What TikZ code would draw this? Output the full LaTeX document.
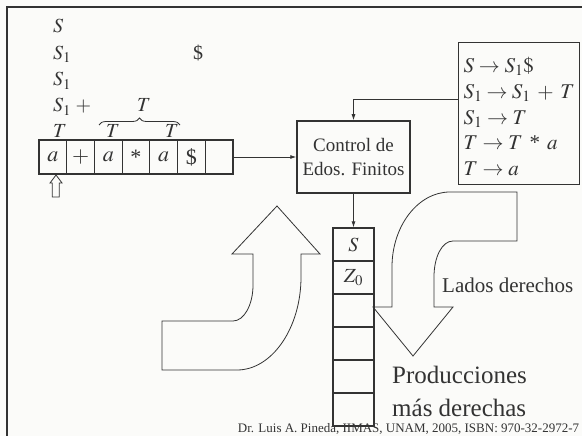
\documentclass[tikz,border=0pt]{standalone}
\usepackage{mathptmx}
\usepackage{fontspec}
\setmainfont{Liberation Serif}
\usetikzlibrary{arrows.meta, positioning, decorations.pathreplacing}
\definecolor{inkcolor}{RGB}{51,51,51}
\definecolor{papercolor}{RGB}{251,251,249}

\begin{document}
\begin{tikzpicture}[
    x=1pt, y=-1pt,
    cell/.style={draw=inkcolor, line width=1.2pt, minimum width=27.7pt, minimum height=34pt, inner sep=0pt, text=inkcolor, font=\fontsize{22}{24}\selectfont},
    stackcell/.style={draw=inkcolor, line width=1.2pt, minimum width=41pt, minimum height=33pt, inner sep=0pt, text=inkcolor, font=\fontsize{20}{24}\selectfont},
    deriv/.style={anchor=base west, inner sep=0pt, text=inkcolor, font=\fontsize{20}{24}\selectfont},
    label/.style={anchor=base, inner sep=0pt, text=inkcolor, font=\fontsize{20}{24}\selectfont},
    arrow/.style={-{Latex[length=6pt,width=4pt]}, draw=inkcolor, line width=0.8pt},
    bigarrow/.style={draw=inkcolor, line width=0.8pt, line join=miter}
]
    \useasboundingbox[fill=papercolor] (0,0) rectangle (582,436);
    % Frame
    \draw[inkcolor, line width=2.6pt] (582,7) -- (7,7) -- (7,436);

    % Derivation
    \node[deriv] (d1) at (53,33) {$S$};
    \node[deriv] (d2) at (53,59.5) {$S_1$};
    \node[deriv] (d3) at (53,86) {$S_1$};
    \node[deriv] (d4) at (53,112) {$S_1\;+$};
    \node[deriv] (d5) at (53,138) {$T$};
    \node[label] (dollar) at (198,59.5) {\$};
    \node[label] (tsum) at (144,112) {$T$};
    \node[label] (tleft) at (113,138) {$T$};
    \node[label] (tright) at (172,138) {$T$};
    \draw[inkcolor, line width=0.8pt, decorate, decoration={brace, amplitude=7pt}] (99,125) -- (180,125);

    % Tape
    \foreach \sym [count=\i] in {$a$,$+$,$a$,*,$a$,\$,{}}
        \node[cell] (t\i) at ({39+27.7*(\i-0.5)},157) {\sym};
    \draw[bigarrow] (50,183) -- (56,175) -- (62,183) -- (59.3,183) -- (59.3,197) -- (52.3,197) -- (52.3,183) -- cycle;

    % Finite control and grammar
    \node[draw=inkcolor, line width=1.5pt, minimum width=113pt, minimum height=72pt, align=center, text=inkcolor, font=\fontsize{19}{24}\selectfont] (control) at (353.5,157) {Control de\\Edos. Finitos};
    \node[draw=inkcolor, line width=1.2pt, anchor=north west, inner xsep=5pt, inner ysep=2pt, text width=111pt, align=left, text=inkcolor, font=\fontsize{21}{25.8}\selectfont] (grammar) at (458,42)
        {\rule{0pt}{28pt}$S \rightarrow S_1\$$\\$S_1 \rightarrow S_1 \;+\; T$\\$S_1 \rightarrow T$\\$T \rightarrow T$ * $a$\\$T \rightarrow a$\rule[-7pt]{0pt}{7pt}};

    % Stack
    \foreach \sym [count=\i] in {$S$,$Z_0$,{},{},{},{}}
        \node[stackcell] (s\i) at (353.5,{228+33*(\i-0.5)}) {\sym};

    % Connectors
    \draw[arrow] (t7.east) -- (control.west);
    \draw[arrow] ([yshift=14pt]grammar.west) -| (control.north);
    \draw[arrow] (control.south) -- (s1.north);

    % Bent arrows
    \draw[bigarrow] (162,321) -- (233,321) .. controls (244,321) and (253,305) .. (253,285) -- (253,254) -- (232,254) -- (277,206) -- (320,254) -- (301,254) -- (301,277)
        .. controls (301,328) and (272,370) .. (237,370) -- (162,370) -- cycle;
    \draw[bigarrow] (450,192) -- (517,192) -- (517,241) -- (453,241) .. controls (442,241) and (434,257) .. (434,277) -- (434,307) -- (453,307) -- (413,356) -- (373,307) -- (392,307) -- (392,267)
        .. controls (392,226) and (418,192) .. (450,192) -- cycle;

    % Annotations
    \node[anchor=west, inner sep=0pt, text=inkcolor, font=\fontsize{21}{24}\selectfont] (lados) at (442,285) {Lados derechos};
    \node[anchor=north west, inner sep=0pt, align=left, text=inkcolor, font=\fontsize{25}{33}\selectfont] (prod) at (392,366) {Producciones\\más derechas};
    \node[anchor=base, inner sep=0pt, text=inkcolor, font=\fontsize{13}{15}\selectfont] (credit) at (408.5,432.5) {Dr. Luis A. Pineda, IIMAS, UNAM, 2005, ISBN: 970-32-2972-7};
\end{tikzpicture}
\end{document}
